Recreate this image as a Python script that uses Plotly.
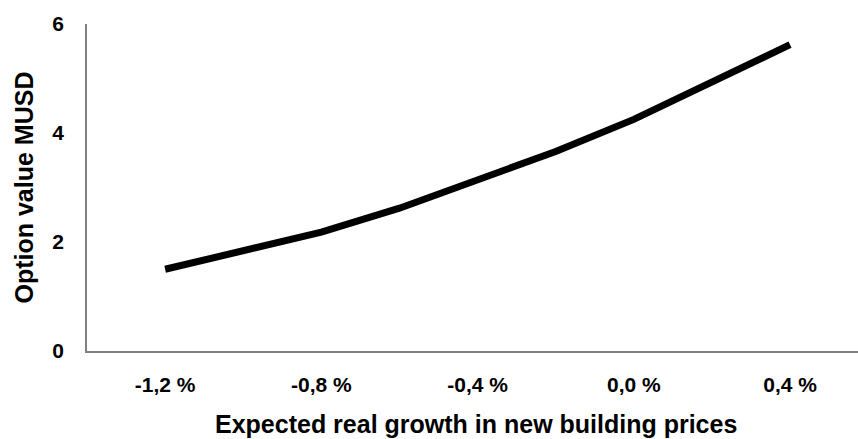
import plotly.graph_objects as go

# expected real growth (%) and option value (MUSD)
growth = [-1.2, -1.0, -0.8, -0.6, -0.4, -0.2, 0.0, 0.2, 0.4]
option_value = [1.50, 1.83, 2.18, 2.62, 3.14, 3.66, 4.25, 4.94, 5.62]

x_ticks = [-1.2, -0.8, -0.4, 0.0, 0.4]
x_labels = ["-1,2 %", "-0,8 %", "-0,4 %", "0,0 %", "0,4 %"]
y_ticks = [0, 2, 4, 6]

font = "Liberation Sans, Arial, sans-serif"

fig = go.Figure()
fig.add_trace(go.Scatter(x=growth, y=option_value, mode="lines",
                         line=dict(color="black", width=7)))

fig.update_layout(
    width=858, height=439,
    margin=dict(l=87, r=0, t=24, b=88),
    paper_bgcolor="white", plot_bgcolor="white",
    showlegend=False,
    font=dict(family=font, color="black"),
)
fig.update_xaxes(range=[-1.4, 0.574], tickvals=x_ticks, ticktext=x_labels,
                 showgrid=False, zeroline=False, showline=True,
                 linecolor="#808080", linewidth=1.5, ticks="",
                 ticklabelstandoff=14,
                 tickfont=dict(size=21, family=font, weight="bold"))
fig.update_yaxes(range=[0, 6], tickvals=y_ticks,
                 showgrid=False, zeroline=False, showline=True,
                 linecolor="#808080", linewidth=1.5, ticks="",
                 ticklabelstandoff=17,
                 tickfont=dict(size=21, family=font, weight="bold"))

# axis titles
fig.add_annotation(text="<b>Expected real growth in new building prices</b>",
                   xref="paper", yref="paper", x=0.5045, y=-0.223,
                   xanchor="center", yanchor="middle", showarrow=False,
                   font=dict(size=25, family=font, color="black"))
fig.add_annotation(text="<b>Option value MUSD</b>", textangle=-90,
                   xref="paper", yref="paper", x=-0.083, y=0.5,
                   xanchor="center", yanchor="middle", showarrow=False,
                   font=dict(size=25, family=font, color="black"))

# page body has a default 8px margin; drop it so the chart sits at 0,0
fig.write_html("out.html", config={"displayModeBar": False},
               post_script="document.body.style.margin='0';")
